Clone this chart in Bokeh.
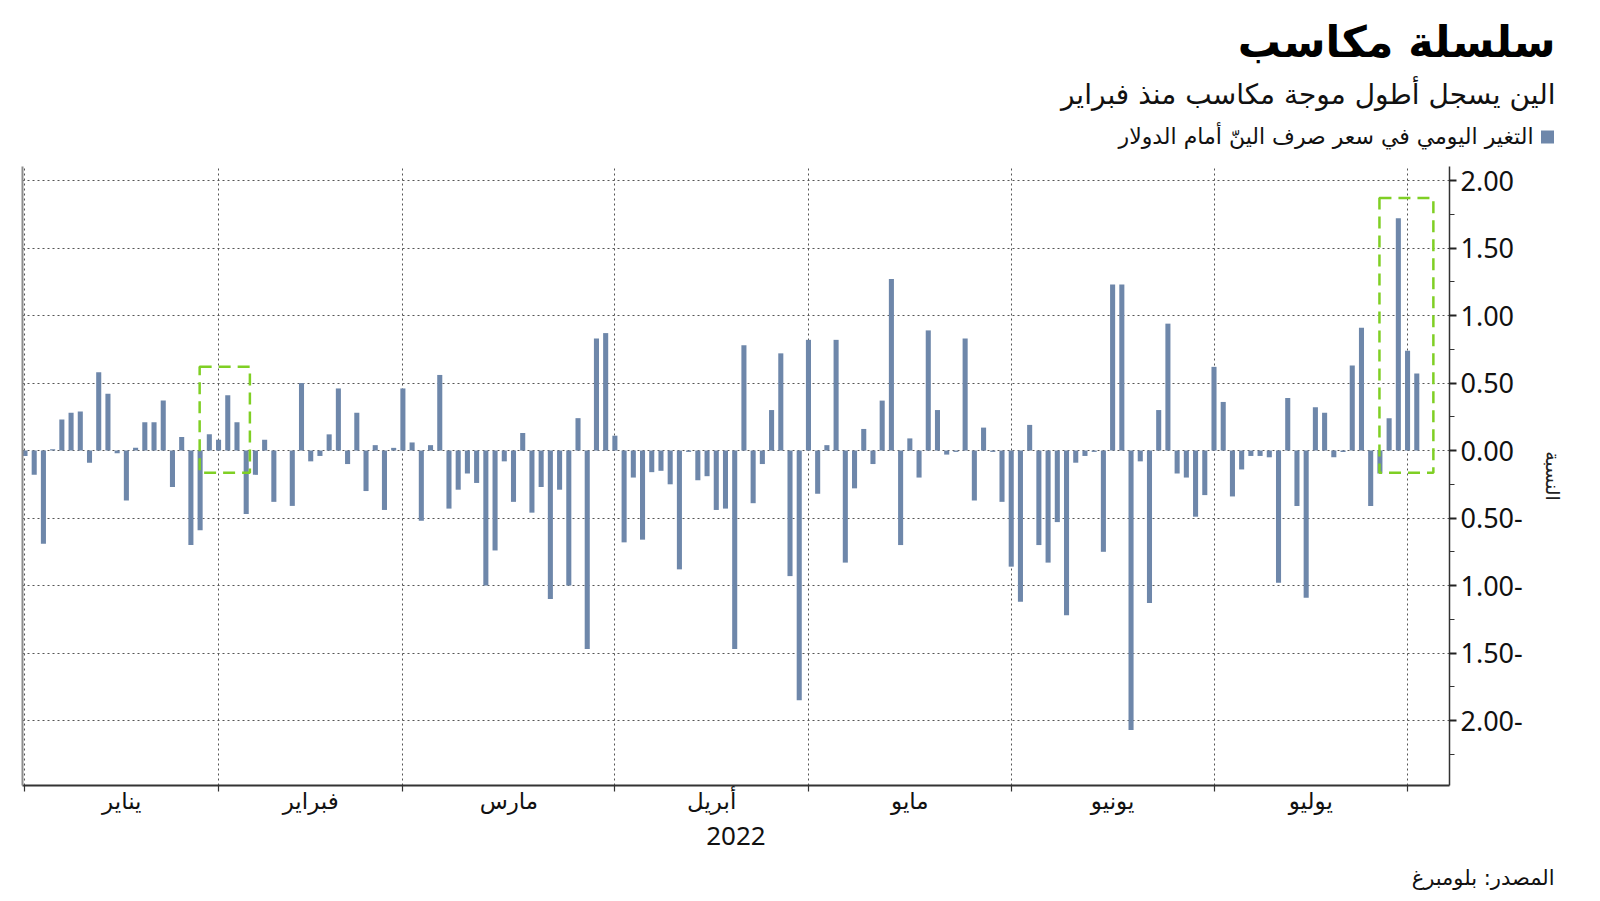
import pandas as pd
from bokeh.plotting import figure
from bokeh.models import ColumnDataSource, FixedTicker, LinearAxis, Range1d
from bokeh.layouts import column
from bokeh.core.properties import value
from bokeh.embed import file_html
from bokeh.resources import INLINE

# ---------------- data ----------------
first_trading_day = "2022-01-03"
# daily % change of the yen against the dollar, one value per weekday
daily_change = [
    # January
    -0.04, -0.18, -0.69, 0.01, 0.23, 0.28, 0.29, -0.09, 0.58, 0.42, -0.02,
    -0.37, 0.02, 0.21, 0.21, 0.37, -0.27, 0.10, -0.70, -0.59, 0.12,
    # February
    0.08, 0.41, 0.21, -0.47, -0.18, 0.08, -0.38, 0.00, -0.41, 0.50,
    -0.08, -0.04, 0.12, 0.46, -0.10, 0.28, -0.30, 0.04, -0.44, 0.02,
    # March
    0.46, 0.06, -0.52, 0.04, 0.56, -0.43, -0.29, -0.17, -0.24, -1.00, -0.74, -0.08,
    -0.38, 0.13, -0.46, -0.27, -1.10, -0.29, -1.00, 0.24, -1.47, 0.83, 0.87,
    # April
    0.11, -0.68, -0.20, -0.66, -0.16, -0.15, -0.25, -0.88, -0.01, -0.22, -0.19,
    -0.44, -0.43, -1.47, 0.78, -0.39, -0.10, 0.30, 0.72, -0.93, -1.85,
    # May
    0.82, -0.32, 0.04, 0.82, -0.83, -0.28, 0.16, -0.10, 0.37, 1.27, -0.70,
    0.09, -0.20, 0.89, 0.30, -0.03, -0.01, 0.83, -0.37, 0.17, -0.01, -0.38,
    # June
    -0.86, -1.12, 0.19, -0.70, -0.83, -0.53, -1.22, -0.09, -0.04, -0.01, -0.75,
    1.23, 1.23, -2.07, -0.08, -1.13, 0.30, 0.94, -0.17, -0.20, -0.49, -0.33,
    # July
    0.62, 0.36, -0.34, -0.14, -0.04, -0.04, -0.05, -0.98, 0.39, -0.41, -1.09,
    0.32, 0.28, -0.05, -0.01, 0.63, 0.91, -0.41, -0.17, 0.24, 1.72,
    # August
    0.74, 0.57,
]
month_names = ["يناير", "فبراير", "مارس", "أبريل", "مايو", "يونيو", "يوليو"]
year_label = "2022"
y_ticks = [-2.0, -1.5, -1.0, -0.5, 0.0, 0.5, 1.0, 1.5, 2.0]
y_tick_labels = ["2.00-", "1.50-", "1.00-", "0.50-", "0.00", "0.50", "1.00", "1.50", "2.00"]
y_minor_ticks = [-2.25, -1.75, -1.25, -0.75, -0.25, 0.25, 0.75, 1.25, 1.75]
# highlighted gain streaks (first and last day)
streak_first = ["2022-01-31", "2022-07-28"]
streak_last = ["2022-02-03", "2022-08-02"]

title_text = "سلسلة مكاسب"
subtitle_text = "الين يسجل أطول موجة مكاسب منذ فبراير"
legend_text = "التغير اليومي في سعر صرف الينّ أمام الدولار"
axis_title = "النسبة"
source_text = "المصدر: بلومبرغ"

# ---------------- styling of the highlight boxes ----------------
box_pad_left = [1.05, 1.05]
box_pad_right = [1.4, 1.8]
box_pad_top = [0.21, 0.15]
box_floor = -0.165

# ---------------- derived ----------------
dates = pd.bdate_range(first_trading_day, periods=len(daily_change))
idx = list(range(len(dates)))
month_key = dates.to_period("M")
month_starts = [i for i in idx if i == 0 or month_key[i] != month_key[i - 1]]
month_mids = [(a + b) / 2 for a, b in zip(month_starts[:-1], month_starts[1:])]

pos = {d.strftime("%Y-%m-%d"): i for i, d in enumerate(dates)}
box_left, box_right, box_top, box_bottom = [], [], [], []
for k, (a, b) in enumerate(zip(streak_first, streak_last)):
    ia, ib = pos[a], pos[b]
    box_left.append(ia - box_pad_left[k])
    box_right.append(ib + box_pad_right[k])
    box_top.append(max(daily_change[ia:ib + 1]) + box_pad_top[k])
    box_bottom.append(box_floor)

BAR = "#6e87aa"
AR_FONT = "DejaVu Sans"
NUM_FONT = "Noto Sans"
W = 1592


def no_frame_align(fig):
    if "frame_align" in fig.properties():
        fig.frame_align = False


# ---------------- header (title, subtitle, legend) ----------------
HDR_H = 156
hdr = figure(width=W, height=HDR_H, output_backend="svg", toolbar_location=None,
             x_range=Range1d(0, W), y_range=Range1d(HDR_H, 0), min_border=0,
             x_axis_type=None, y_axis_type=None)
no_frame_align(hdr)
hdr.outline_line_color = None
hdr.text(x=[1555], y=[41], text=[title_text], text_align="right", text_baseline="middle",
         text_font=value(AR_FONT), text_font_size="43px", text_font_style="bold",
         text_color="#000000")
hdr.text(x=[1555], y=[94], text=[subtitle_text], text_align="right", text_baseline="middle",
         text_font=value(AR_FONT), text_font_size="28px", text_color="#111111")
hdr.rect(x=[1547], y=[136.5], width=13, height=13, fill_color=BAR, line_color=None)
hdr.text(x=[1533], y=[136], text=[legend_text], text_align="right", text_baseline="middle",
         text_font=value(AR_FONT), text_font_size="22px", text_color="#111111")

# ---------------- main chart ----------------
src = ColumnDataSource(dict(x=idx, v=daily_change))

TOP = 10
p = figure(width=W, height=TOP + 619 + 80, output_backend="svg", toolbar_location=None,
           x_range=Range1d(-0.27, 154.55), y_range=Range1d(-2.481, 2.104),
           y_axis_location="right",
           min_border_left=22, min_border_right=W - 1449, min_border_top=TOP, min_border_bottom=80)
p.outline_line_color = None

# grid
p.ygrid.ticker = FixedTicker(ticks=y_ticks)
p.xgrid.ticker = FixedTicker(ticks=month_starts)
for g in (p.xgrid, p.ygrid):
    g.grid_line_color = "#555555"
    g.grid_line_dash = "2 3"
    g.grid_line_width = 1

# bars
p.vbar(x="x", top="v", bottom=0, width=0.55, source=src, fill_color=BAR, line_color=None)

# highlight boxes
p.quad(left=box_left, right=box_right, top=box_top, bottom=box_bottom,
       fill_color=None, line_color="#7fcf24", line_width=2.5, line_dash="12 7")

# right axis
yax = p.yaxis[0]
yax.ticker = FixedTicker(ticks=y_ticks, minor_ticks=y_minor_ticks)
yax.major_label_overrides = {t: s for t, s in zip(y_ticks, y_tick_labels)}
yax.axis_line_color = "#333333"
yax.axis_line_width = 1.5
yax.major_tick_line_color = "#222222"
yax.major_tick_line_width = 2
yax.major_tick_out = 7
yax.major_tick_in = 0
yax.minor_tick_line_color = "#333333"
yax.minor_tick_out = 5
yax.minor_tick_in = 0
yax.major_label_standoff = 4
yax.major_label_text_font = NUM_FONT
yax.major_label_text_font_size = "27px"
yax.major_label_text_color = "#111111"
yax.axis_label = axis_title
yax.axis_label_text_font = AR_FONT
yax.axis_label_text_font_size = "19px"
yax.axis_label_text_font_style = "normal"
yax.axis_label_text_color = "#222222"
yax.axis_label_standoff = 16

# bottom axis
xax = p.xaxis[0]
xax.ticker = FixedTicker(ticks=month_mids, minor_ticks=month_starts)
xax.major_label_overrides = {t: s for t, s in zip(month_mids, month_names)}
xax.axis_line_color = "#333333"
xax.axis_line_width = 2
xax.major_tick_out = 0
xax.major_tick_in = 0
xax.major_tick_line_color = None
xax.minor_tick_out = 6
xax.minor_tick_in = 0
xax.minor_tick_line_color = "#333333"
xax.minor_tick_line_width = 1.2
xax.major_label_standoff = -4
xax.major_label_text_font = AR_FONT
xax.major_label_text_font_size = "23px"
xax.major_label_text_color = "#111111"
xax.axis_label = year_label
xax.axis_label_text_font = NUM_FONT
xax.axis_label_text_font_size = "26px"
xax.axis_label_text_font_style = "normal"
xax.axis_label_text_color = "#111111"
xax.axis_label_standoff = 10

# left frame line
lax = LinearAxis(ticker=FixedTicker(ticks=[]), axis_line_color="#8c8c8c", axis_line_width=2,
                 major_tick_line_color=None, minor_tick_line_color=None,
                 major_label_text_font_size="0px")
p.add_layout(lax, "left")

# ---------------- footer (source) ----------------
FTR_H = 33
ftr = figure(width=W, height=FTR_H, output_backend="svg", toolbar_location=None,
             x_range=Range1d(0, W), y_range=Range1d(FTR_H, 0), min_border=0,
             x_axis_type=None, y_axis_type=None)
no_frame_align(ftr)
ftr.outline_line_color = None
ftr.text(x=[1554], y=[12], text=[source_text], text_align="right", text_baseline="middle",
         text_font=value(AR_FONT), text_font_size="21px", text_color="#111111")

layout = column(hdr, p, ftr, spacing=0)
open("out.html", "w").write(file_html(layout, INLINE))
